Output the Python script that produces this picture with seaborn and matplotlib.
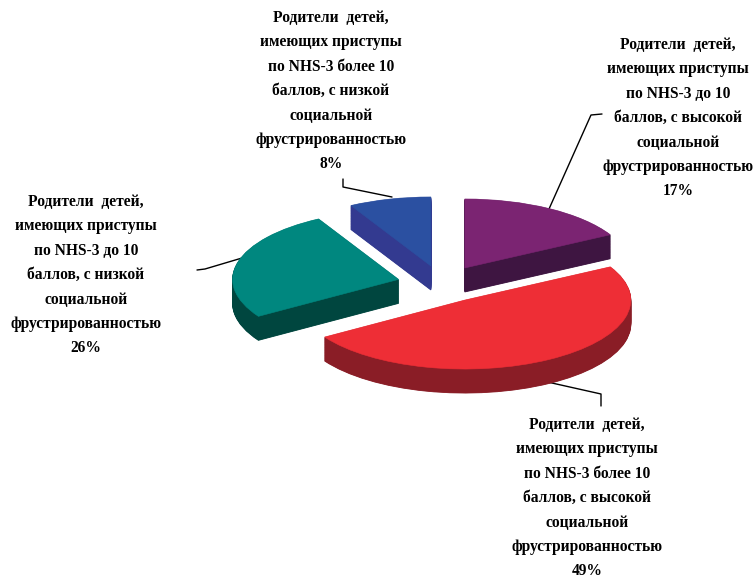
import numpy as np
import matplotlib
matplotlib.use("Agg")
import matplotlib.pyplot as plt
import seaborn as sns

# Groups of parents, clockwise from 12 o'clock
groups = [
    "Родители  детей,\nимеющих приступы\nпо NHS-3 до 10\nбаллов, с высокой\nсоциальной\nфрустрированностью",
    "Родители  детей,\nимеющих приступы\nпо NHS-3 более 10\nбаллов, с высокой\nсоциальной\nфрустрированностью",
    "Родители  детей,\nимеющих приступы\nпо NHS-3 до 10\nбаллов, с низкой\nсоциальной\nфрустрированностью",
    "Родители  детей,\nимеющих приступы\nпо NHS-3 более 10\nбаллов, с низкой\nсоциальной\nфрустрированностью",
]
shares = [17, 49, 26, 8]

top_colors = ["#7B2472", "#EE2E36", "#00877F", "#2B50A1"]
side_colors = ["#3E1541", "#8A1D26", "#00463F", "#333A90"]

# label block: centre x and first-line y, plus leader polylines (pixel space)
label_pos = [(678, 45), (587, 425), (86, 202), (331, 18)]
line_step = 24.4
leaders = [
    [(602, 114), (591, 115), (549, 209)],
    [(543, 381), (601, 394), (601, 406)],
    [(197, 270), (205, 269), (242, 258)],
    [(343, 179), (343, 187), (392, 197)],
]

sns.set_theme(style="white")
plt.rcParams["font.family"] = ["Liberation Serif", "DejaVu Serif"]

W, H = 754, 579
fig = plt.figure(figsize=(W / 100, H / 100), dpi=100)
fig.patch.set_facecolor("white")

# overlay axes in pixel units for labels and leader lines
ax_txt = fig.add_axes([0, 0, 1, 1])
ax_txt.set_xlim(0, W)
ax_txt.set_ylim(H, 0)
ax_txt.axis("off")

# pie axes: unit circle is stretched into a flat ellipse
cx, cy, rx, ry = 442, 284, 166, 69
xhalf, yhalf = 2.0, 3.0
ax = fig.add_axes([(cx - xhalf * rx) / W, (H - cy - yhalf * ry) / H,
                   2 * xhalf * rx / W, 2 * yhalf * ry / H])

depth = 24 / ry
explode = [0.27] * len(shares)

# side walls: stack of darker pies below the top face
for off in np.linspace(depth, 0, 40)[:-1]:
    wedges, _ = ax.pie(shares, colors=side_colors, startangle=90,
                       counterclock=False, explode=explode,
                       center=(0, -off), wedgeprops=dict(linewidth=0.6))
    for w in wedges:
        w.set_edgecolor(w.get_facecolor())

# top face
wedges, _ = ax.pie(shares, colors=top_colors, startangle=90,
                   counterclock=False, explode=explode, center=(0, 0),
                   wedgeprops=dict(linewidth=0.4))
for w in wedges:
    w.set_edgecolor(w.get_facecolor())

ax.set_xlim(-xhalf, xhalf)
ax.set_ylim(-yhalf, yhalf)
ax.set_aspect("auto")
ax.axis("off")

for name, val, (tx, ty), pts in zip(groups, shares, label_pos, leaders):
    lines = f"{name}\n{val}%".split("\n")
    for i, line in enumerate(lines):
        ax_txt.text(tx, ty + i * line_step, line, ha="center", va="center",
                    fontsize=11.2, fontweight="bold", color="black")
    xs, ys = zip(*pts)
    ax_txt.plot(xs, ys, color="black", lw=1.0)

fig.savefig("out.png", dpi=100, facecolor="white")
